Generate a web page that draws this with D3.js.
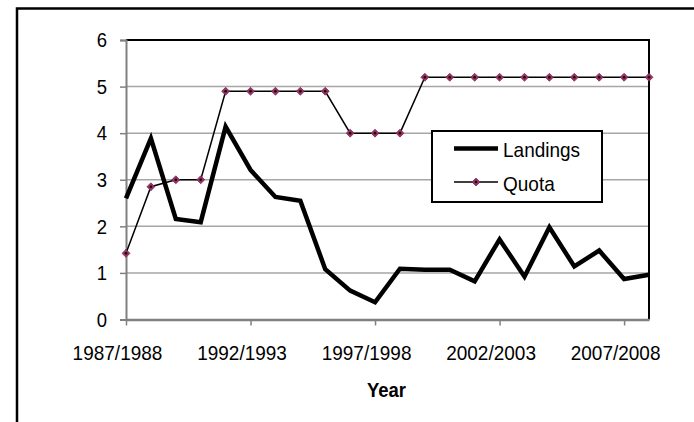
<!DOCTYPE html>
<html>
<head>
<meta charset="utf-8">
<script src="https://cdn.jsdelivr.net/npm/d3@7"></script>
<style>
  html, body { margin: 0; padding: 0; background: #fff; }
  svg { display: block; }
  text { font-family: "Liberation Sans", Arial, sans-serif; fill: #000; }
</style>
</head>
<body>
<svg id="chart" width="694" height="422"></svg>
<script>
const seasons = ["1987/1988","1988/1989","1989/1990","1990/1991","1991/1992","1992/1993","1993/1994","1994/1995","1995/1996","1996/1997","1997/1998","1998/1999","1999/2000","2000/2001","2001/2002","2002/2003","2003/2004","2004/2005","2005/2006","2006/2007","2007/2008","2008/2009"];
const landings = [2.6, 3.89, 2.16, 2.09, 4.14, 3.21, 2.63, 2.55, 1.08, 0.62, 0.37, 1.09, 1.07, 1.07, 0.82, 1.72, 0.92, 1.98, 1.14, 1.48, 0.87, 0.96];
const quota = [1.42, 2.85, 3.0, 3.0, 4.9, 4.9, 4.9, 4.9, 4.9, 4.0, 4.0, 4.0, 5.2, 5.2, 5.2, 5.2, 5.2, 5.2, 5.2, 5.2, 5.2, 5.2];
const xTickLabels = ["1987/1988","1992/1993","1997/1998","2002/2003","2007/2008"];
const yTicks = [0, 1, 2, 3, 4, 5, 6];
const seriesNames = ["Landings", "Quota"];
const xTitle = "Year";

const svg = d3.select("#chart");
const L = 126, R = 649, T = 40, B = 319.5;
const SY = 1.1; // vertical stretch of glyphs seen in the reference

const x = d3.scalePoint().domain(seasons).range([L, R]).padding(0);
const y = d3.scaleLinear().domain([0, 6]).range([B, T]);

// outer frame
svg.append("rect").attr("x", 17).attr("y", 8.5).attr("width", 700).attr("height", 440)
  .attr("fill", "none").attr("stroke", "#000").attr("stroke-width", 2.5);

// gridlines
svg.append("g").selectAll("line").data(yTicks.filter(d => d > 0 && d < 6)).join("line")
  .attr("x1", L).attr("x2", R).attr("y1", d => y(d)).attr("y2", d => y(d))
  .attr("stroke", "#a6a6a6").attr("stroke-width", 1.5);

// plot border top/right
svg.append("path").attr("d", `M${L},${y(6)}H${R}V${B}`)
  .attr("fill", "none").attr("stroke", "#000").attr("stroke-width", 2);

// y axis
const yAxis = svg.append("g").attr("transform", `translate(${L},0)`)
  .call(d3.axisLeft(y).tickValues(yTicks).tickSize(6).tickPadding(13).tickFormat(d3.format("d")));
yAxis.select(".domain").attr("stroke", "#808080").attr("stroke-width", 2);
yAxis.selectAll(".tick line").attr("stroke", "#808080").attr("stroke-width", 1.5);
yAxis.selectAll("text").attr("font-size", 18.5).attr("font-family", "Liberation Sans, Arial, sans-serif")
  .attr("dy", "0.33em").attr("transform", `scale(1,${SY})`);

// x axis
const xAxis = svg.append("g").attr("transform", `translate(0,${B})`)
  .call(d3.axisBottom(x).tickValues(xTickLabels).tickSize(6).tickSizeOuter(0));
xAxis.select(".domain").attr("stroke", "#808080").attr("stroke-width", 2.5);
xAxis.selectAll(".tick line").attr("stroke", "#808080").attr("stroke-width", 1.5);
xAxis.selectAll("text").attr("font-size", 19).attr("font-family", "Liberation Sans, Arial, sans-serif")
  .attr("y", 40.5 / SY).attr("dy", 0).attr("dx", -9).attr("transform", `scale(1,${SY})`);

// x title
svg.append("text").attr("transform", `translate(${(L + R) / 2 - 1},397) scale(1,${SY})`)
  .attr("text-anchor", "middle")
  .attr("font-size", 18.5).attr("font-weight", "bold").text(xTitle);

// lines
const line = d3.line().x((d, i) => x(seasons[i])).y(d => y(d));
svg.append("path").datum(quota).attr("d", line)
  .attr("fill", "none").attr("stroke", "#000").attr("stroke-width", 1.5);
svg.append("path").datum(landings).attr("d", line)
  .attr("fill", "none").attr("stroke", "#000").attr("stroke-width", 4.5).attr("stroke-linejoin", "miter");

const diamond = d3.symbol().type(d3.symbolDiamond2).size(40);
const mk = svg.append("g").selectAll("g").data(quota).join("g")
  .attr("transform", (d, i) => `translate(${x(seasons[i])},${y(d)})`);
mk.append("path").attr("d", diamond).attr("fill", "#993366").attr("stroke", "#7a2850").attr("stroke-width", 0.8);
mk.append("circle").attr("r", 1.3).attr("fill", "#1a0010");

// legend
const lg = svg.append("g");
lg.append("rect").attr("x", 432).attr("y", 131).attr("width", 170).attr("height", 71)
  .attr("fill", "#fff").attr("stroke", "#000").attr("stroke-width", 2);
lg.append("line").attr("x1", 454).attr("x2", 498).attr("y1", 148.5).attr("y2", 148.5)
  .attr("stroke", "#000").attr("stroke-width", 4.5);
lg.append("text").attr("transform", `translate(503,157) scale(1,${SY})`).attr("font-size", 19).text(seriesNames[0]);
lg.append("line").attr("x1", 454).attr("x2", 498).attr("y1", 182).attr("y2", 182)
  .attr("stroke", "#000").attr("stroke-width", 1.5);
const lm = lg.append("g").attr("transform", "translate(476,182)");
lm.append("path").attr("d", diamond).attr("fill", "#993366").attr("stroke", "#7a2850").attr("stroke-width", 0.8);
lm.append("circle").attr("r", 1.3).attr("fill", "#1a0010");
lg.append("text").attr("transform", `translate(503,190.5) scale(1,${SY})`).attr("font-size", 19).text(seriesNames[1]);
</script>
</body>
</html>
